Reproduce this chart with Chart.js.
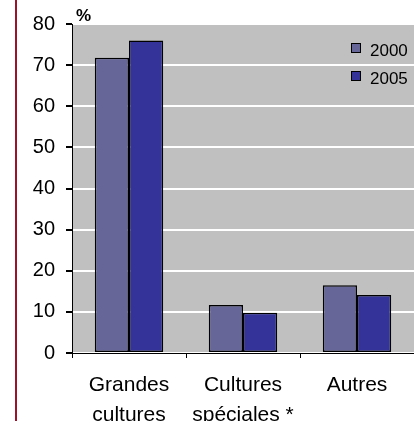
<!DOCTYPE html>
<html>
<head>
<meta charset="utf-8">
<script src="https://cdn.jsdelivr.net/npm/chart.js@4"></script>
<style>
  html, body { margin: 0; padding: 0; background: #fff; }
  #wrap { position: relative; width: 414px; height: 421px; }
</style>
</head>
<body>
<div id="wrap"><canvas id="myChart" width="414" height="421"></canvas></div>
<script>
// Chart data
var categories = [["Grandes", "cultures"], ["Cultures", "spéciales *"], ["Autres"]];
var seriesNames = ["2000", "2005"];
var values2000 = [71.8, 11.7, 16.5];
var values2005 = [76.0, 9.8, 14.1];
var yTicks = [0, 10, 20, 30, 40, 50, 60, 70, 80];
var unitLabel = "%";

var colors = ["#666699", "#333399"];

// Grey plot background, red page rule, unit label and legend
var decorPlugin = {
    id: "decor",
    beforeDraw: function (chart) {
        var ctx = chart.ctx;
        var a = chart.chartArea;
        ctx.save();
        ctx.fillStyle = "#c0c0c0";
        ctx.fillRect(a.left, a.top, a.right - a.left, a.bottom - a.top);
        ctx.restore();
    },
    afterDraw: function (chart) {
        var ctx = chart.ctx;
        var a = chart.chartArea;
        ctx.save();
        // red rule on the left
        ctx.fillStyle = "#a0102a";
        ctx.fillRect(15, 0, 2, 421);
        // unit label
        ctx.fillStyle = "#000";
        ctx.font = "bold 17px 'Liberation Sans', Arial, sans-serif";
        ctx.textAlign = "left";
        ctx.textBaseline = "alphabetic";
        ctx.fillText(unitLabel, a.left + 4, a.top - 3);
        // legend
        ctx.font = "17px 'Liberation Sans', Arial, sans-serif";
        chart.data.datasets.forEach(function (ds, i) {
            var y = a.top + 19 + i * 28;
            ctx.fillStyle = ds.backgroundColor;
            ctx.fillRect(351, y, 9, 9);
            ctx.strokeStyle = "#000";
            ctx.lineWidth = 1;
            ctx.strokeRect(351.5, y + 0.5, 9, 9);
            ctx.fillStyle = "#000";
            ctx.fillText(ds.label, 370, y + 13);
        });
        ctx.restore();
    }
};

var chartData = {
    labels: categories,
    datasets: [
        {
            label: seriesNames[0],
            data: values2000,
            backgroundColor: colors[0],
            borderColor: "#000",
            borderWidth: 1.5,
            borderSkipped: false
        },
        {
            label: seriesNames[1],
            data: values2005,
            backgroundColor: colors[1],
            borderColor: "#000",
            borderWidth: 1.5,
            borderSkipped: false
        }
    ]
};

var config = {
    type: "bar",
    data: chartData,
    options: {
        responsive: false,
        animation: false,
        layout: { padding: { top: 24, right: 0, left: 0, bottom: 0 } },
        datasets: { bar: { categoryPercentage: 0.6, barPercentage: 1.0 } },
        plugins: {
            legend: { display: false },
            tooltip: { enabled: false }
        },
        scales: {
            x: {
                grid: {
                    drawOnChartArea: false,
                    offset: true,
                    tickColor: "#000",
                    tickLength: 5
                },
                border: { color: "#000", width: 1 },
                ticks: {
                    color: "#000",
                    padding: 12,
                    maxRotation: 0,
                    font: { family: "'Liberation Sans', Arial, sans-serif", size: 21, lineHeight: 1.45 }
                },
                afterFit: function (scale) { scale.height = 68; }
            },
            y: {
                min: 0,
                max: 80,
                afterBuildTicks: function (scale) {
                    scale.ticks = yTicks.map(function (v) { return { value: v }; });
                },
                grid: {
                    color: "#ffffff",
                    lineWidth: 2,
                    tickColor: "#000",
                    tickLength: 6
                },
                border: { color: "#000", width: 1 },
                ticks: {
                    color: "#000",
                    padding: 11,
                    font: { family: "'Liberation Sans', Arial, sans-serif", size: 20 }
                },
                afterFit: function (scale) { scale.width = 72; }
            }
        }
    },
    plugins: [decorPlugin]
};

var myChart = new Chart(document.getElementById("myChart"), config);
</script>
</body>
</html>
